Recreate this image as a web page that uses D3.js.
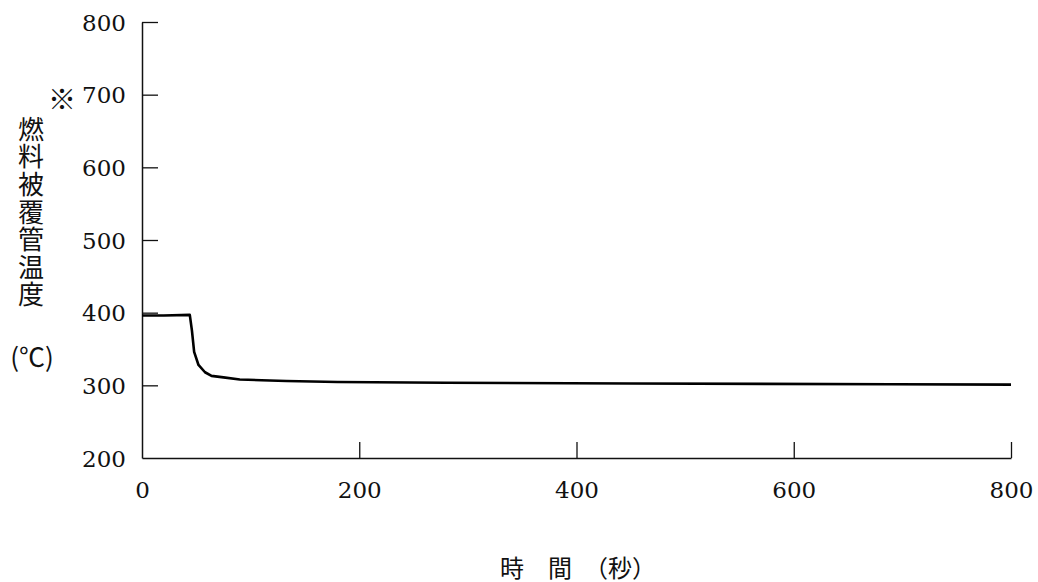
<!DOCTYPE html>
<html>
<head>
<meta charset="utf-8">
<script src="https://cdn.jsdelivr.net/npm/d3@7"></script>
<style>
  body { margin: 0; background: #fff; }
</style>
</head>
<body>
<div class="canvas"></div>
<script>
// time (s) and cladding temperature (°C)
const timeSec = [0, 20, 44, 46, 48, 52, 58, 64, 75, 90, 110, 133, 180, 280, 450, 690, 800];
const cladTemp = [396, 396, 397, 375, 346, 328, 318, 313, 311, 308, 307, 306, 304.5, 303.5, 302.5, 301.5, 301];
const xTicks = [0, 200, 400, 600, 800];
const yTicks = [200, 300, 400, 500, 600, 700, 800];
const yTitle = '燃料被覆管温度';

const width = 1038;
const height = 582;
const margin = {top: 22, right: 27, bottom: 124, left: 142};
const graphWidth = width - margin.left - margin.right;
const graphHeight = height - margin.top - margin.bottom;
const serif = "'DejaVu Serif', serif";
const cjk = "'Noto Sans CJK JP', sans-serif";

const svg = d3.select('.canvas')
  .append('svg')
  .attr('width', width)
  .attr('height', height);

const graph = svg.append('g')
  .attr('transform', `translate(${margin.left}, ${margin.top})`);

const x = d3.scaleLinear()
  .domain([0, 800])
  .range([0, graphWidth]);

const y = d3.scaleLinear()
  .domain([200, 800])
  .range([graphHeight, 0]);

// axes: ticks point into the plot
const xAxis = d3.axisBottom(x)
  .tickValues(xTicks)
  .tickSizeInner(-16)
  .tickSizeOuter(0)
  .tickPadding(20);
const yAxis = d3.axisLeft(y)
  .tickValues(yTicks)
  .tickSizeInner(-16)
  .tickSizeOuter(0)
  .tickPadding(16);

const gXAxis = graph.append('g')
  .attr('transform', `translate(0, ${graphHeight})`)
  .call(xAxis);
const gYAxis = graph.append('g')
  .call(yAxis);

[gXAxis, gYAxis].forEach(g => {
  g.select('.domain').attr('stroke', '#111').attr('stroke-width', 1.5);
  g.selectAll('.tick line').attr('stroke', '#111').attr('stroke-width', 1.3);
  g.selectAll('.tick text')
    .style('font-family', serif)
    .style('font-size', '23px')
    .attr('fill', '#111');
});
gXAxis.selectAll('.tick').filter(d => d === 0).select('line').remove();
gYAxis.selectAll('.tick').filter(d => d === 200).select('line').remove();
gXAxis.selectAll('.tick text').attr('dy', '0.85em');
gYAxis.selectAll('.tick text').attr('dy', '0.35em');

// the temperature curve
const line = d3.line()
  .x((d, i) => x(timeSec[i]))
  .y(d => y(d));

graph.append('path')
  .datum(cladTemp)
  .attr('fill', 'none')
  .attr('stroke', '#000')
  .attr('stroke-width', 2.6)
  .attr('stroke-linejoin', 'round')
  .attr('d', line);

// y-axis title, written vertically
svg.append('text')
  .attr('x', 62)
  .attr('y', 98)
  .attr('text-anchor', 'middle')
  .attr('dominant-baseline', 'central')
  .style('font-family', cjk)
  .style('font-size', '28px')
  .attr('fill', '#111')
  .text('※');

svg.append('text')
  .attr('x', 31)
  .attr('y', 116)
  .style('writing-mode', 'vertical-rl')
  .style('font-family', cjk)
  .style('font-size', '26px')
  .attr('letter-spacing', 1.6)
  .attr('fill', '#111')
  .text(yTitle);

svg.append('text')
  .attr('x', 32)
  .attr('y', 355)
  .attr('text-anchor', 'middle')
  .attr('dominant-baseline', 'central')
  .style('font-family', cjk)
  .style('font-size', '26px')
  .attr('fill', '#111')
  .text('(℃)');

// x-axis title
svg.append('text')
  .attr('x', 578)
  .attr('y', 566)
  .attr('text-anchor', 'middle')
  .attr('dominant-baseline', 'central')
  .style('font-family', cjk)
  .style('font-size', '24px')
  .attr('fill', '#111')
  .text('時　間　（秒）');
</script>
</body>
</html>
